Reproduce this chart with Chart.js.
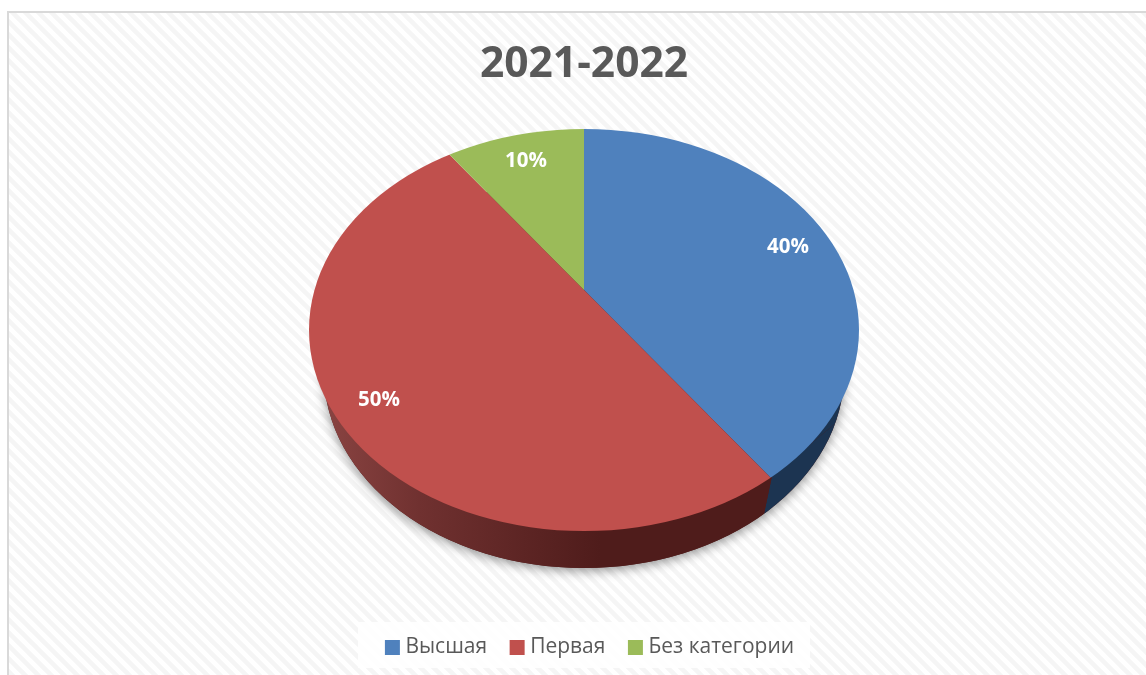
<!DOCTYPE html>
<html><head><meta charset="utf-8">
<style>html,body{margin:0;padding:0;background:#fff}#w{width:1146px;height:675px;position:relative}</style>
<script src="https://cdn.jsdelivr.net/npm/chart.js@4"></script>
</head><body><div id="w"><canvas id="c" width="1146" height="675"></canvas></div>
<script>
const titleText = '2021-2022';
const categories = ['Высшая', 'Первая', 'Без категории'];
const shareValues = [40, 50, 10];
const topColors = ['#4f81bd', '#c0504d', '#9bbb59'];
const sideColors = ['#1c3451', '#4f1c1b', '#1c3451'];

const FONT = '"Open Sans", "Noto Sans", sans-serif';
const TOP = {x: 584, y: 330, rx: 275, ry: 201, ax: 584, ay: 290};
const BOT = {x: 584, y: 373, rx: 260, ry: 195, ax: 772, ay: 476};
const TILT = 201 / 275, LABEL_FRAC = 0.843;
const SIDE_SHEAR = -0.8806;
const LABEL_NUDGE_X = [1, 2, 0];
const LABEL_NUDGE_Y = [5, 0, 2];
const LEGEND_SHIFT = 8;

function ell(ctx, e){ ctx.beginPath(); ctx.ellipse(e.x, e.y, e.rx, e.ry, 0, 0, Math.PI*2); }

function project(ctx, arc, e, shear){
  const S = 620 / arc.outerRadius;
  ctx.translate(e.ax, e.ay);
  ctx.transform(S, 0, (shear || 0) * S, S*TILT, 0, 0);
  ctx.translate(-arc.x, -arc.y);
  return S;
}

const threeD = {
  id: 'threeD',
  afterLayout(chart){
    chart.legend.left += LEGEND_SHIFT;
    chart.legend.right += LEGEND_SHIFT;
  },
  beforeDraw(chart){
    const ctx = chart.ctx;
    ctx.save();
    ctx.fillStyle = '#fff'; ctx.fillRect(0,0,chart.width,chart.height);
    const T = 13, tile = document.createElement('canvas'); tile.width = tile.height = T;
    const t = tile.getContext('2d'); t.strokeStyle = '#f5f5f5'; t.lineWidth = 4.5;
    for (const o of [-T,0,T]){ t.beginPath(); t.moveTo(o-2,-2); t.lineTo(o+T+2,T+2); t.stroke(); }
    ctx.fillStyle = ctx.createPattern(tile,'repeat');
    ctx.fillRect(8,12,chart.width,chart.height);
    ctx.fillStyle = '#d9d9d9';
    ctx.fillRect(7,11,chart.width,2); ctx.fillRect(7,11,2,chart.height);
    ctx.fillStyle = 'rgba(255,255,255,0.85)';
    ctx.fillRect(358,622,452,46);
    ctx.restore();
  },
  beforeDatasetsDraw(chart){
    const ctx = chart.ctx, arcs = chart.getDatasetMeta(0).data;
    // soft shadow under the lower rim
    ctx.save();
    ctx.shadowColor = 'rgba(0,0,0,0.42)'; ctx.shadowBlur = 11; ctx.shadowOffsetY = 3; ctx.shadowOffsetX = 0;
    ctx.fillStyle = '#4f1c1b';
    ell(ctx, BOT); ctx.fill();
    ctx.restore();
    // side wall
    ctx.save(); ell(ctx, BOT); ctx.clip();
    arcs.forEach((arc, i) => {
      ctx.save();
      const S = project(ctx, arc, BOT, SIDE_SHEAR);
      let fill = sideColors[i];
      if (i === 1) {
        // gradient running along screen x, expressed in the sheared arc space
        const n = 1 + SIDE_SHEAR * SIDE_SHEAR;
        const pt = X => { const f = (X - BOT.ax) / S / n; return [arc.x + f, arc.y + SIDE_SHEAR * f]; };
        const p0 = pt(322), p1 = pt(600);
        const g = ctx.createLinearGradient(p0[0], p0[1], p1[0], p1[1]);
        g.addColorStop(0,'#8a4442'); g.addColorStop(0.35,'#703130'); g.addColorStop(1,'#4f1c1b');
        fill = g;
      }
      const saved = arc.options;
      arc.options = Object.assign({}, saved, {backgroundColor: fill, borderWidth: 0});
      arc.draw(ctx);
      arc.options = saved;
      ctx.restore();
    });
    ctx.restore();
    // top surface
    ctx.save(); ell(ctx, TOP); ctx.clip();
    arcs.forEach(arc => { ctx.save(); project(ctx, arc, TOP); arc.draw(ctx); ctx.restore(); });
    ctx.restore();
    // value labels along each slice's mid ray
    ctx.save();
    ctx.fillStyle = '#fff'; ctx.font = 'bold 20.5px ' + FONT;
    ctx.textAlign = 'center'; ctx.textBaseline = 'middle';
    const total = shareValues.reduce((a,b)=>a+b,0);
    arcs.forEach((arc, i) => {
      const a = (arc.startAngle + arc.endAngle) / 2;
      const dx = Math.cos(a), dy = Math.sin(a) * TILT;
      const A = (dx/TOP.rx)**2 + (dy/TOP.ry)**2;
      const c0 = (TOP.ay - TOP.y) / TOP.ry;
      const B = 2 * c0 * dy / TOP.ry, C = c0*c0 - 1;
      const r = (-B + Math.sqrt(B*B - 4*A*C)) / (2*A) * LABEL_FRAC;
      ctx.fillText(Math.round(shareValues[i] / total * 100) + '%', TOP.ax + dx*r + LABEL_NUDGE_X[i], TOP.ay + dy*r + LABEL_NUDGE_Y[i]);
    });
    ctx.restore();
    return false;
  }
};

new Chart(document.getElementById('c'), {
  type: 'pie',
  data: { labels: categories, datasets: [{ data: shareValues, backgroundColor: topColors, borderWidth: 0 }] },
  plugins: [threeD],
  options: {
    responsive: false, animation: false, events: [],
    layout: { padding: { left: 22, right: 0, top: 0, bottom: 7 } },
    plugins: {
      tooltip: { enabled: false },
      title: { display: true, text: titleText, color: '#595959',
               font: { family: FONT, size: 42.5, weight: 'bold' }, padding: { top: 39, bottom: 10 } },
      legend: { position: 'bottom',
        labels: { boxWidth: 5, boxHeight: 5, padding: 27.5, color: '#595959',
          font: { family: FONT, size: 21 },
          generateLabels: () => categories.map((text, i) => ({
            text, index: i, fillStyle: topColors[i], strokeStyle: topColors[i], lineWidth: 10, fontColor: '#595959', hidden: false
          })) } }
    }
  }
});
</script></body></html>
